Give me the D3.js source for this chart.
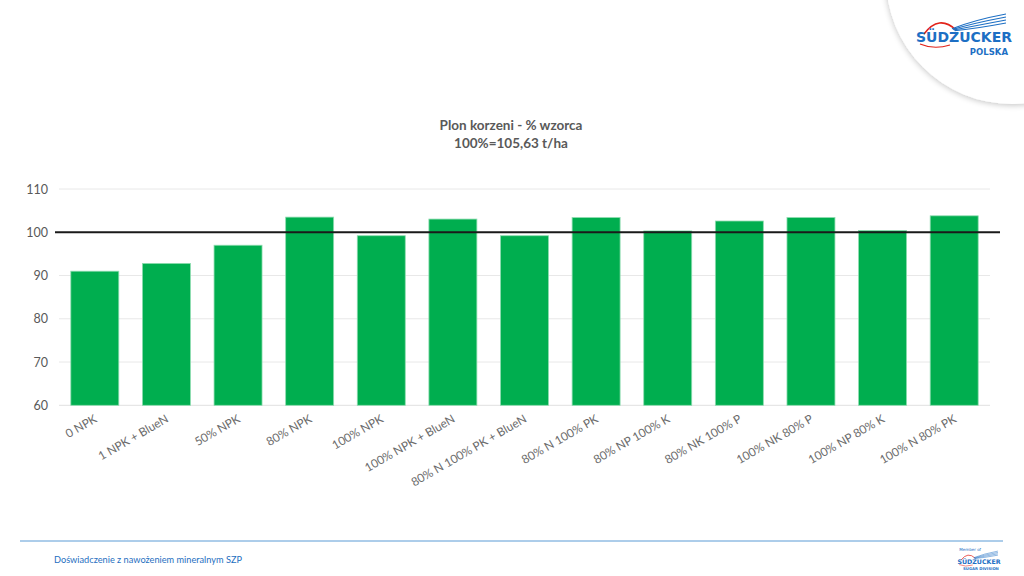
<!DOCTYPE html>
<html><head><meta charset="utf-8">
<script src="https://cdn.jsdelivr.net/npm/d3@7"></script>
<style>body{margin:0;background:#fff}svg{display:block}</style>
</head><body>
<svg id="c" width="1024" height="576"></svg>
<script>
const categories = ["0 NPK","1 NPK + BlueN","50% NPK","80% NPK","100% NPK","100% NPK + BlueN","80% N 100% PK + BlueN","80% N 100% PK","80% NP 100% K","80% NK 100% P","100% NK 80% P","100% NP 80% K","100% N 80% PK"];
const values = [91.0, 92.8, 97.0, 103.5, 99.2, 103.05, 99.2, 103.4, 100.3, 102.6, 103.4, 100.4, 103.8];
const yTicks = [60, 70, 80, 90, 100, 110];
const refValue = 100;
const titleLines = ["Plon korzeni - % wzorca", "100%=105,63 t/ha"];
const footerText = "Doświadczenie z nawożeniem mineralnym SZP";

const svg = d3.select("#c");
const font = "Lato, 'Open Sans', sans-serif";

// top-right logo circle
const defs = svg.append("defs");
const f = defs.append("filter").attr("id","sh").attr("x","-20%").attr("y","-20%").attr("width","140%").attr("height","140%");
f.append("feGaussianBlur").attr("in","SourceAlpha").attr("stdDeviation",3);
f.append("feOffset").attr("dx",0).attr("dy",1).attr("result","b");
const fc = f.append("feComponentTransfer"); fc.append("feFuncA").attr("type","linear").attr("slope",0.25);
const fm = f.append("feMerge"); fm.append("feMergeNode"); fm.append("feMergeNode").attr("in","SourceGraphic");
svg.append("circle").attr("cx",1012).attr("cy",-22).attr("r",126).attr("fill","#fff").attr("filter","url(#sh)");

function logo(g, s, sub){
  g.append("path").attr("d","M-40,-2 Q-25,-22 -8,-6").attr("fill","none").attr("stroke","#e2231a").attr("stroke-width",1.6*s);
  g.append("path").attr("d","M-44,8 Q-30,14 -14,9").attr("fill","none").attr("stroke","#e2231a").attr("stroke-width",1.2*s);
  [[0,-16],[3,-13],[6,-10],[9,-7]].forEach(([dx,dy])=>{
    g.append("path").attr("d",`M${-12+dx*0.3},${-4+dy*0.2} Q${10},${dy} ${42},${dy-6}`).attr("fill","none").attr("stroke","#1d6fc4").attr("stroke-width",1.1*s);
  });
  g.append("text").attr("x",0).attr("y",6).attr("text-anchor","middle").attr("font-family","'DejaVu Sans', sans-serif")
    .attr("font-weight","bold").attr("font-size",14).attr("fill","#1d6fc4").text("SÜDZUCKER");
  g.append("text").attr("x",44).attr("y",19).attr("text-anchor","end").attr("font-family","'DejaVu Sans', sans-serif")
    .attr("font-weight","bold").attr("font-size",8.5).attr("fill","#1d6fc4").text(sub);
}
logo(svg.append("g").attr("transform","translate(964,36)"),1,"POLSKA");

// title
const tg = svg.append("text").attr("x",511).attr("text-anchor","middle").attr("font-family",font)
  .attr("font-weight","bold").attr("font-size",13.5).attr("fill","#595959");
titleLines.forEach((t,i)=>tg.append("tspan").attr("x",511).attr("y",130+i*18).text(t));

// chart
const m = {l:59, r:990, t:189, b:405.3};
const x = d3.scaleBand().domain(categories).range([m.l,m.r]).paddingInner(0.33).paddingOuter(0.165);
const y = d3.scaleLinear().domain([60,110]).range([m.b,m.t]);

svg.append("g").selectAll("line").data(yTicks).join("line")
  .attr("x1",m.l).attr("x2",m.r).attr("y1",d=>y(d)).attr("y2",d=>y(d))
  .attr("stroke",d=>d===60?"#e0e0e0":"#e8e8e8").attr("stroke-width",1);

const ya = svg.append("g").attr("transform",`translate(${m.l-11},0)`)
  .call(d3.axisLeft(y).tickValues(yTicks).tickSize(0).tickPadding(0));
ya.select(".domain").remove();
ya.selectAll("text").attr("font-family",font).attr("font-size",12.5).attr("fill","#595959");

svg.append("g").selectAll("rect").data(values).join("rect")
  .attr("x",(d,i)=>x(categories[i])).attr("width",x.bandwidth())
  .attr("y",d=>y(d)).attr("height",d=>y(60)-y(d))
  .attr("fill","#00ae4f").attr("stroke","#8edcb0").attr("stroke-width",0.8);

svg.append("line").attr("x1",55).attr("x2",1000).attr("y1",y(refValue)).attr("y2",y(refValue))
  .attr("stroke","#1a1a1a").attr("stroke-width",2);

const xa = svg.append("g").attr("transform",`translate(0,${m.b})`)
  .call(d3.axisBottom(x).tickSize(0).tickPadding(0));
xa.select(".domain").remove();
xa.selectAll("text").attr("font-family",font).attr("font-size",11.8).attr("fill","#6b6b6b")
  .attr("text-anchor","end").attr("dy",0)
  .attr("transform",`translate(3,16) rotate(-30)`);

// footer
svg.append("line").attr("x1",20).attr("x2",1003).attr("y1",541).attr("y2",541).attr("stroke","#5b9bd5").attr("stroke-width",1);
svg.append("text").attr("x",54).attr("y",563).attr("font-family",font).attr("font-size",9.2).attr("fill","#1f6fbf").text(footerText);
const sg = svg.append("g").attr("transform","translate(979,561) scale(0.45)");
sg.append("text").attr("x",-44).attr("y",-22).attr("font-family","'DejaVu Sans', sans-serif").attr("font-size",9).attr("fill","#1d6fc4").text("Member of");
logo(sg,1,"SUGAR  DIVISION");
</script>
</body></html>
